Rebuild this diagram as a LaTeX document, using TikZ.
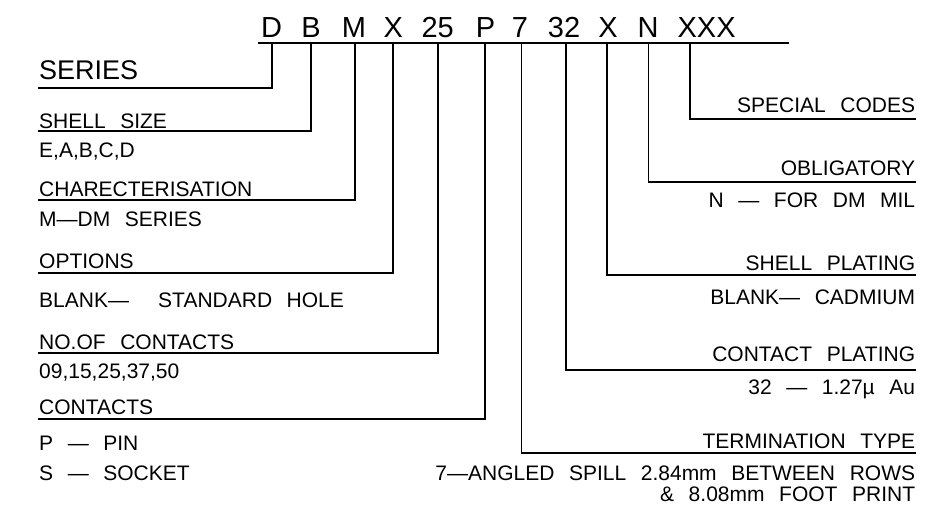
\documentclass[tikz,border=0pt]{standalone}
\usepackage{fontspec}
\setmainfont[WordSpace=2.5]{Liberation Sans}
\usetikzlibrary{positioning}

\begin{document}
\begin{tikzpicture}[x=1pt, y=-1pt, line width=1.8pt,
      code/.style={anchor=base, inner sep=0pt, font=\fontsize{29}{29}\selectfont},
      lbl/.style={inner sep=0pt, font=\fontsize{21}{21}\selectfont},
      lhead/.style={lbl, anchor=base west},
      rhead/.style={lbl, anchor=base east}]
    \fill[white] (0,0) rectangle (939,505);
    \useasboundingbox (0,0) rectangle (939,505);

    % part number and its bar
    \node[code] (cD) at (271.7,37.3) {D};
    \node[code] (cB) at (311,37.3) {B};
    \node[code] (cM) at (354,37.3) {M};
    \node[code] (cXa) at (393.3,37.3) {X};
    \node[code] (cNum) at (437.7,37.3) {25};
    \node[code] (cP) at (485.5,37.3) {P};
    \node[code] (cSeven) at (520,37.3) {7};
    \node[code] (cPlat) at (564,37.3) {32};
    \node[code] (cXb) at (608,37.3) {X};
    \node[code] (cN) at (648,37.3) {N};
    \node[code, anchor=base west] (cSpec) at (676.7,37.3) {XXX};
    \coordinate (barL) at (258.3,42.7);
    \coordinate (barR) at (788.5,42.7);
    \draw (barL) -- (barR);

    \coordinate (tD) at (271.7,42.7);
    \coordinate (tB) at (311,42.7);
    \coordinate (tM) at (355,42.7);
    \coordinate (tXa) at (393.3,42.7);
    \coordinate (tNum) at (437.7,42.7);
    \coordinate (tP) at (485.3,42.7);
    \coordinate (tSeven) at (521.5,42.7);
    \coordinate (tPlat) at (566,42.7);
    \coordinate (tXb) at (607,42.7);
    \coordinate (tN) at (648.5,42.7);
    \coordinate (tSpec) at (690,42.7);

    % left column
    \node[lhead, font=\fontsize{27}{27}\selectfont] (series) at (38.3,80) {SERIES};
    \coordinate (uSeries) at (38.3,87.7);
    \node[lhead] (shell) at (38.3,128.3) {SHELL SIZE};
    \coordinate (uShell) at (38.3,130.7);
    \node[lhead] (shellV) at (38.3,157.3) {E,A,B,C,D};
    \node[lhead] (charac) at (38.3,196.7) {CHARECTERISATION};
    \coordinate (uCharac) at (38.3,200);
    \node[lhead] (characV) at (38.3,226.7) {M---DM SERIES};
    \node[lhead] (opt) at (38.3,268.3) {OPTIONS};
    \coordinate (uOpt) at (38.3,272.7);
    \node[lhead] (optV) at (38.3,307.3) {BLANK---\ \ STANDARD HOLE};
    \node[lhead] (num) at (38.3,349.3) {NO.OF CONTACTS};
    \coordinate (uNum) at (38.3,353);
    \node[lhead] (numV) at (38.3,378.3) {09,15,25,37,50};
    \node[lhead] (cont) at (38.3,414) {CONTACTS};
    \coordinate (uCont) at (38.3,418.7);
    \node[lhead] (contV) at (38.3,450.7) {P --- PIN};
    \node[lhead] (contW) at (38.3,480.7) {S --- SOCKET};

    % right column
    \node[rhead] (spec) at (916,112.7) {SPECIAL CODES};
    \coordinate (uSpec) at (916,119.3);
    \node[rhead] (obl) at (916,176) {OBLIGATORY};
    \coordinate (uObl) at (916,181.7);
    \node[rhead] (oblV) at (916,207.3) {N --- FOR DM MIL};
    \node[rhead] (splat) at (916,270.7) {SHELL PLATING};
    \coordinate (uSplat) at (916,275);
    \node[rhead] (splatV) at (916,304) {BLANK--- CADMIUM};
    \node[rhead] (cplat) at (916,361.7) {CONTACT PLATING};
    \coordinate (uCplat) at (916,370);
    \node[rhead] (cplatV) at (916,394) {32 --- 1.27µ Au};
    \node[rhead] (term) at (916,448.3) {TERMINATION TYPE};
    \coordinate (uTerm) at (916,453.3);
    \node[rhead] (termV) at (916,480) {7---ANGLED SPILL 2.84mm BETWEEN ROWS};
    \node[rhead] (termW) at (916,501.7) {\& 8.08mm FOOT PRINT};

    % leaders
    \draw (tD) |- (uSeries);
    \draw (tB) |- (uShell);
    \draw (tM) |- (uCharac);
    \draw (tXa) |- (uOpt);
    \draw (tNum) |- (uNum);
    \draw (tP) |- (uCont);
    \draw (tSeven) |- (uTerm);
    \draw (tPlat) |- (uCplat);
    \draw (tXb) |- (uSplat);
    \draw (tN) |- (uObl);
    \draw (tSpec) |- (uSpec);
  \end{tikzpicture}
\end{document}
